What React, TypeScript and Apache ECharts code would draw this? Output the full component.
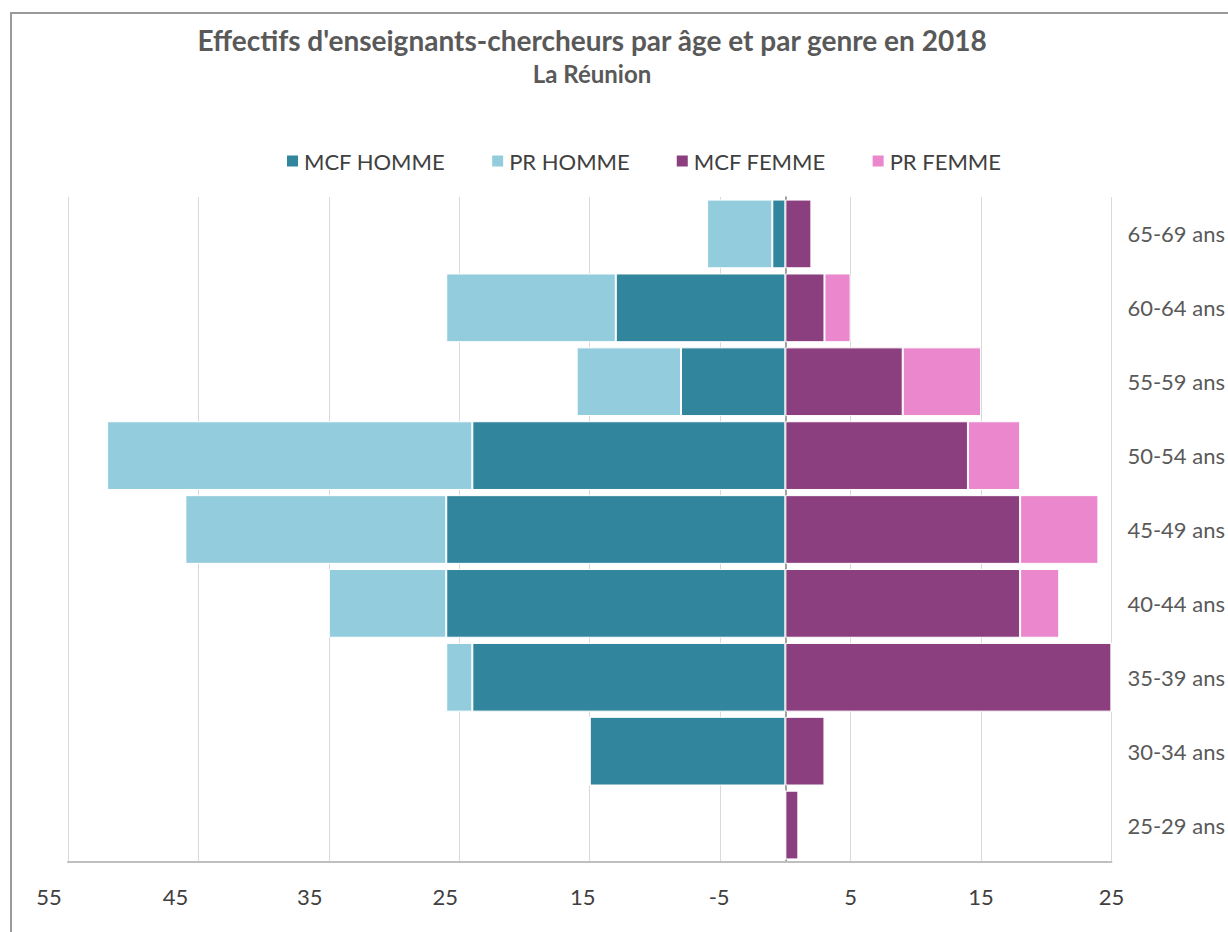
import React, { useEffect, useRef } from "react";
import * as echarts from "echarts";

const categories = ["25-29 ans", "30-34 ans", "35-39 ans", "40-44 ans", "45-49 ans", "50-54 ans", "55-59 ans", "60-64 ans", "65-69 ans"];
const mcfHomme = [0, 15, 24, 26, 26, 24, 8, 13, 1];
const prHomme = [0, 0, 2, 9, 20, 28, 8, 13, 5];
const mcfFemme = [1, 3, 25, 18, 18, 14, 9, 3, 2];
const prFemme = [0, 0, 0, 3, 6, 4, 6, 2, 0];
const xTickLabels = ["55", "45", "35", "25", "15", "-5", "5", "15", "25"];

const FONT = "Lato, 'Open Sans', sans-serif";

export default function App() {
  const ref = useRef<HTMLDivElement>(null);
  useEffect(() => {
    if (!ref.current) return;
    const chart = echarts.init(ref.current, null, { renderer: "svg" });
    const barStyle = (color: string) => ({ color, borderColor: "#ffffff", borderWidth: 1 });
    // right padding shifts centred labels to the left, as in the reference
    const shifts = [38, 46, 38, 28, 14, 2, 0, 0, 0];
    const rich: Record<string, any> = {};
    shifts.forEach((s, i) => {
      rich["s" + i] = { fontSize: 22, color: "#404040", fontFamily: FONT, padding: [0, s, 0, 0] };
    });
    chart.setOption({
      animation: false,
      backgroundColor: "#ffffff",
      textStyle: { fontFamily: FONT },
      title: [
        {
          text: "Effectifs d'enseignants-chercheurs par âge et par genre en 2018",
          left: 587,
          top: 21,
          textAlign: "center",
          textStyle: { fontSize: 28, fontWeight: "bold", color: "#595959", fontFamily: FONT },
        },
        {
          text: "La Réunion",
          left: 587,
          top: 56,
          textAlign: "center",
          textStyle: { fontSize: 24, fontWeight: "bold", color: "#595959", fontFamily: FONT },
        },
      ],
      legend: {
        top: 145,
        left: 280,
        itemWidth: 13,
        itemHeight: 13,
        itemGap: 45,
        icon: "rect",
        textStyle: { fontSize: 22, color: "#404040", fontFamily: FONT },
        data: ["MCF HOMME", "PR HOMME", "MCF FEMME", "PR FEMME"],
      },
      grid: { left: 68, right: 115, top: 197, bottom: 70, containLabel: false },
      xAxis: {
        type: "value",
        min: -55,
        max: 25,
        interval: 10,
        axisLine: { show: true, lineStyle: { color: "#bfbfbf", width: 2 } },
        axisTick: { show: false },
        splitLine: { show: true, lineStyle: { color: "#d9d9d9", width: 1 } },
        axisLabel: {
          margin: 23,
          fontSize: 22,
          color: "#404040",
          fontFamily: FONT,
          rich,
          formatter: (_v: number, i: number) => "{s" + i + "|" + (xTickLabels[i] ?? "") + "}",
        },
      },
      yAxis: [
        {
          type: "category",
          data: categories,
          position: "left",
          axisLine: { show: true, onZero: true, lineStyle: { color: "#808080", width: 1.5 } },
          axisTick: { show: false },
          axisLabel: { show: false },
        },
        {
          type: "category",
          data: categories,
          position: "right",
          axisLine: { show: false },
          axisTick: { show: false },
          axisLabel: { fontSize: 22, color: "#595959", margin: 16, align: "left", fontFamily: FONT },
        },
      ],
      graphic: [
        {
          type: "rect",
          shape: { x: 11, y: 13, width: 1240, height: 960 },
          style: { fill: "none", stroke: "#9a9a9a", lineWidth: 2 },
          silent: true,
        },
      ],
      series: [
        {
          name: "MCF HOMME",
          type: "bar",
          stack: "total",
          yAxisIndex: 0,
          barCategoryGap: "7%",
          itemStyle: barStyle("#31859C"),
          data: mcfHomme.map((v) => -v),
        },
        {
          name: "PR HOMME",
          type: "bar",
          stack: "total",
          yAxisIndex: 0,
          itemStyle: barStyle("#93CDDD"),
          data: prHomme.map((v) => -v),
        },
        {
          name: "MCF FEMME",
          type: "bar",
          stack: "total",
          yAxisIndex: 0,
          itemStyle: barStyle("#8B3F7E"),
          data: mcfFemme,
        },
        {
          name: "PR FEMME",
          type: "bar",
          stack: "total",
          yAxisIndex: 0,
          itemStyle: barStyle("#EB87CC"),
          data: prFemme,
        },
      ],
    });
    return () => chart.dispose();
  }, []);
  return <div ref={ref} style={{ position: "absolute", left: 0, top: 0, width: 1228, height: 932 }} />;
}
